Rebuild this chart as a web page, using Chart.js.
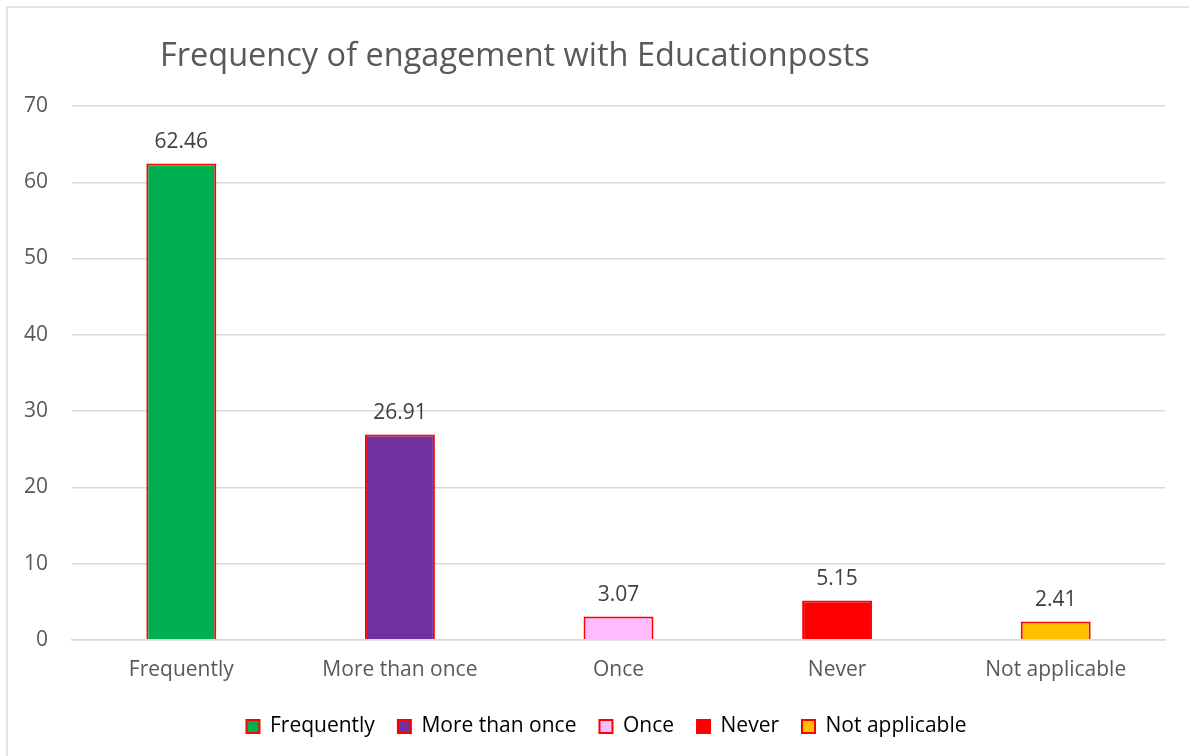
<!DOCTYPE html>
<html>
<head>
<meta charset="utf-8">
<script src="https://cdn.jsdelivr.net/npm/chart.js@4.4.0/dist/chart.umd.min.js"></script>
<style>
  html, body { margin: 0; padding: 0; background: #fff; }
  #wrap { width: 1189px; height: 756px; position: relative; }
</style>
</head>
<body>
<div id="wrap"><canvas id="mycanvas1" width="1189" height="756"></canvas></div>
<script>
var categories = ["Frequently", "More than once", "Once", "Never", "Not applicable"];
var percentages = [62.46, 26.91, 3.07, 5.15, 2.41];
var barColors = ["#00b050", "#7030a0", "#ffbbff", "#ff0000", "#ffc000"];
var yTicks = [0, 10, 20, 30, 40, 50, 60, 70];

var FONT = "'Open Sans', 'Noto Sans', sans-serif";

// outer frame + title, drawn by hand so the title can sit left of centre
var framePlugin = {
  id: 'frame',
  beforeDraw: function(chart) {
    var c = chart.ctx;
    c.save();
    c.strokeStyle = '#d9d9d9';
    c.lineWidth = 1.5;
    c.strokeRect(7, 7, 1300, 900);
    c.fillStyle = '#595959';
    c.font = '32.5px ' + FONT;
    c.textBaseline = 'alphabetic';
    c.textAlign = 'left';
    c.fillText('Frequency of engagement with Educationposts', 160, 66);
    c.restore();
  }
};

// centre the legend on the whole frame rather than the padded box
var legendShift = {
  id: 'legendShift',
  afterLayout: function(chart) {
    chart.legend.left += 24;
    chart.legend.right += 24;
  }
};

// value labels above each bar
var valuePlugin = {
  id: 'values',
  afterDatasetsDraw: function(chart) {
    var c = chart.ctx;
    var meta = chart.getDatasetMeta(0);
    c.save();
    c.fillStyle = '#404040';
    c.font = '21px ' + FONT;
    c.textAlign = 'center';
    c.textBaseline = 'bottom';
    meta.data.forEach(function(bar, i) {
      c.fillText(percentages[i].toFixed(2), bar.x, bar.y - 11);
    });
    c.restore();
  }
};

var ctx = document.getElementById('mycanvas1');
var chart = new Chart(ctx, {
  type: 'bar',
  data: {
    labels: categories,
    datasets: [{
      label: 'Frequency',
      data: percentages,
      backgroundColor: barColors,
      borderColor: '#ff0000',
      borderWidth: 2,
      barPercentage: 0.32,
      categoryPercentage: 1
    }]
  },
  options: {
    responsive: false,
    animation: false,
    layout: { padding: { top: 106, left: 0, right: 24, bottom: 9 } },
    plugins: {
      title: { display: false },
      tooltip: { enabled: false },
      legend: {
        position: 'bottom',
        labels: {
          color: '#595959',
          font: { family: FONT, size: 21 },
          boxWidth: 13,
          boxHeight: 13,
          padding: 23,
          generateLabels: function() {
            return categories.map(function(name, i) {
              return {
                text: name,
                fillStyle: barColors[i],
                strokeStyle: '#ff0000',
                lineWidth: 2,
                index: i
              };
            });
          }
        }
      }
    },
    scales: {
      x: {
        grid: { display: false },
        border: { color: '#d9d9d9', width: 1.5 },
        ticks: { color: '#595959', font: { family: FONT, size: 21 }, padding: 10 }
      },
      y: {
        min: 0,
        max: 70,
        afterBuildTicks: function(axis) {
          axis.ticks = yTicks.map(function(v) { return { value: v }; });
        },
        grid: { color: '#d9d9d9', lineWidth: 1.5, drawTicks: false },
        border: { display: false },
        ticks: { color: '#595959', font: { family: FONT, size: 21 }, padding: 24 }
      }
    }
  },
  plugins: [framePlugin, legendShift, valuePlugin]
});
</script>
</body>
</html>
